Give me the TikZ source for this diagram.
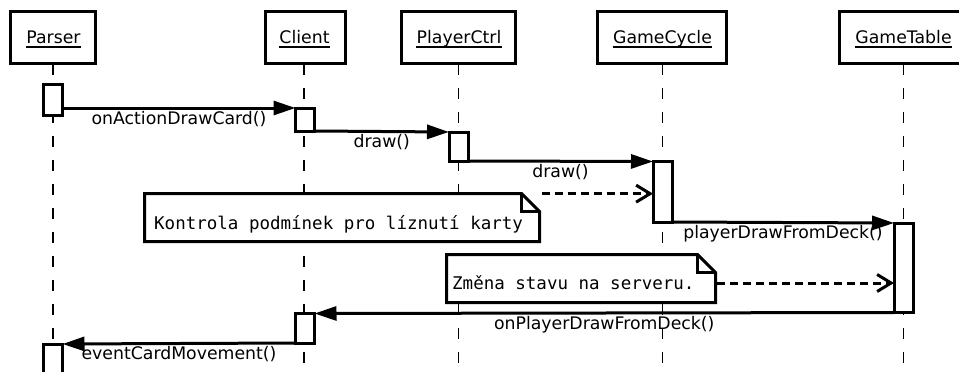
\documentclass[tikz,border=0pt]{standalone}
\usepackage{fontspec}
\setmainfont{DejaVu Sans}
\newfontfamily\notefont{DejaVu Sans Mono}
\usetikzlibrary{arrows.meta}
\tikzset{
  hdr/.style={draw, line width=3pt, minimum height=52pt, inner sep=0pt, outer sep=0pt},
  hdrtxt/.style={anchor=base, inner sep=0pt, font=\fontsize{17.3}{20}\selectfont},
  act/.style={draw, fill=white, line width=3pt, minimum width=19pt, inner sep=0pt, outer sep=0pt},
  life/.style={line width=1.5pt, dash pattern=on 11pt off 13pt},
  msg/.style={line width=3pt, -{Triangle[length=22pt,width=14pt]}},
  ret/.style={line width=3pt, dash pattern=on 8pt off 5pt, -{Straight Barb[length=14pt,width=17pt]}},
  msglbl/.style={anchor=base, yshift=-16pt, inner sep=0pt, font=\fontsize{17.3}{20}\selectfont},
  noteshape/.style={inner sep=0pt, outer sep=0pt},
  notetxt/.style={anchor=base west, inner sep=0pt, font=\notefont\fontsize{17.5}{20}\selectfont},
  notedraw/.style={line width=3pt, line join=miter},
}
\begin{document}
\begin{tikzpicture}[x=1pt,y=-1pt]
\useasboundingbox (0,0) rectangle (959,372);
\fill[white] (0,0) rectangle (959,372);
\clip (0,0) rectangle (959,372);
\coordinate (bot) at (0,385);

% headers
\node[hdr, minimum width=85pt] (P) at (53,37.5) {};
\node[hdr, minimum width=80pt] (C) at (305.5,37.5) {};
\node[hdr, minimum width=114pt] (PC) at (458.5,37.5) {};
\node[hdr, minimum width=129pt] (GC) at (662,37.5) {};
\node[hdr, minimum width=129pt] (GT) at (903.5,37.5) {};

\node[hdrtxt] (Pt) at (53.5,43) {Parser};
\node[hdrtxt] (Ct) at (304.5,43) {Client};
\node[hdrtxt] (PCt) at (459,43) {PlayerCtrl};
\node[hdrtxt] (GCt) at (662.5,43) {GameCycle};
\node[hdrtxt] (GTt) at (903.5,43) {GameTable};
\foreach \t in {Pt,Ct,PCt,GCt,GTt}
  \draw[line width=1.5pt] ([yshift=-4pt]\t.base west) -- ([yshift=-4pt]\t.base east);

% lifelines
\draw[life] (53,63.5) -- (53,385);
\draw[life] (304,63.5) -- (304,385);
\draw[life] (458.5,63.5) -- (458.5,385);
\draw[life] (662.5,63.5) -- (662.5,385);
\draw[life] (903.5,63.5) -- (903.5,385);

% activations
\node[act, minimum height=31pt] (p1) at (53,100) {};
\node[act, minimum height=23pt] (c1) at (305,119.5) {};
\node[act, minimum height=29pt] (pc) at (458.5,146.5) {};
\node[act, minimum height=60.5pt] (gc) at (662.5,191.75) {};
\node[act, minimum height=89.5pt] (gt) at (903.5,267.75) {};
\node[act, minimum height=29.5pt] (c2) at (305,328.25) {};
\node[act, minimum height=56pt] (p2) at (53,372) {};

% messages
\draw[msg] (p1.east |- c1.north west) -- (c1.north west) node[midway, msglbl] {onActionDrawCard()};
\draw[msg] (c1.south east) -- (pc.north west) node[midway, msglbl] {draw()};
\draw[msg] (pc.south east) -- (gc.north west) node[midway, msglbl] {draw()};
\draw[msg] (gc.south east) -- (gt.north west) node[midway, msglbl] {playerDrawFromDeck()};
\draw[msg] (gt.south west) -- (c2.north east) node[midway, msglbl] {onPlayerDrawFromDeck()};
\draw[msg] (c2.south west) -- (p2.north east) node[midway, msglbl] {eventCardMovement()};

% notes
\node[noteshape, minimum width=395pt, minimum height=48pt] (n1) at (342.15,217.65) {};
\node[noteshape, minimum width=269pt, minimum height=48pt] (n2) at (581,278.5) {};
\foreach \n in {n1,n2} {
  \draw[notedraw, fill=white] (\n.north west) -- ([xshift=-18pt]\n.north east) -- ([yshift=-18pt]\n.north east) -- (\n.south east) -- (\n.south west) -- cycle;
  \draw[notedraw] ([xshift=-18pt]\n.north east) -- ([xshift=-18pt,yshift=-18pt]\n.north east) -- ([yshift=-18pt]\n.north east);
}
\node[notetxt] (n1t) at (154,229) {Kontrola podmínek pro líznutí karty};
\node[notetxt] (n2t) at (452,289) {Změna stavu na serveru.};

\draw[ret] ([xshift=2pt]n1.north east) -- (gc.west |- n1.north east);
\draw[ret] ([xshift=1.5pt,yshift=-4.5pt]n2.east) -- ([yshift=-4.5pt]gt.west |- n2.east);
\end{tikzpicture}
\end{document}
